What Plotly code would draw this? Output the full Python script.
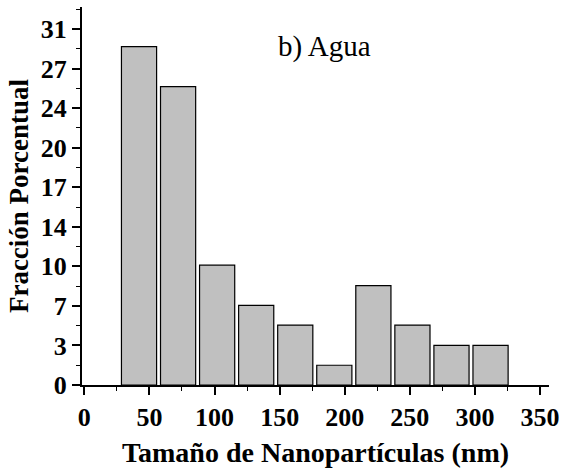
import plotly.graph_objects as go

bin_centers = [42, 72, 102, 132, 162, 192, 222, 252, 282, 312]
fraction = [29.1, 25.65, 10.3, 6.85, 5.15, 1.7, 8.55, 5.15, 3.4, 3.4]
y_tick_vals = [0, 3.4, 6.8, 10.2, 13.6, 17.0, 20.4, 23.8, 27.2, 30.6]
y_tick_text = ["0", "3", "7", "10", "14", "17", "20", "24", "27", "31"]
x_tick_vals = [0, 50, 100, 150, 200, 250, 300, 350]

SERIF = "Liberation Serif, Times New Roman, serif"

fig = go.Figure()
fig.add_trace(go.Bar(
    x=bin_centers, y=fraction,
    marker=dict(color="#c0c0c0", line=dict(color="black", width=1.2)),
    width=27,
))

fig.update_layout(
    width=566, height=472,
    margin=dict(l=82, r=14, t=7, b=87),
    plot_bgcolor="white", paper_bgcolor="white",
    showlegend=False,
    font=dict(family=SERIF, color="black"),
    xaxis=dict(
        range=[-1.8, 356.9], tickvals=x_tick_vals,
        showline=True, linecolor="black", linewidth=2,
        ticks="outside", ticklen=8, tickwidth=1.5, tickcolor="black",
        minor=dict(dtick=25, tick0=0, ticks="outside", ticklen=4, tickcolor="black", tickwidth=1),
        showgrid=False, zeroline=False,
        tickfont=dict(family=SERIF, size=26, color="black", weight="bold"),
        title=dict(text="Tamaño de Nanopartículas (nm)",
                   font=dict(family=SERIF, size=28, color="black", weight="bold"), standoff=11),
    ),
    yaxis=dict(
        range=[0, 32.5], tickvals=y_tick_vals, ticktext=y_tick_text,
        showline=True, linecolor="black", linewidth=2,
        ticks="outside", ticklen=8, tickwidth=1.5, tickcolor="black",
        minor=dict(tickvals=[1.7 + 3.4 * i for i in range(10)], ticks="outside", ticklen=4, tickcolor="black", tickwidth=1),
        showgrid=False, zeroline=False,
        tickfont=dict(family=SERIF, size=26, color="black", weight="bold"),
        title=dict(text="Fracción Porcentual",
                   font=dict(family=SERIF, size=27, color="black", weight="bold"), standoff=4),
    ),
    annotations=[dict(
        x=147, y=29.1, xref="x", yref="y", xanchor="left", yanchor="middle",
        text="b) Agua", showarrow=False,
        font=dict(family=SERIF, size=29, color="black"),
    )],
)

fig.write_html("out.html")
